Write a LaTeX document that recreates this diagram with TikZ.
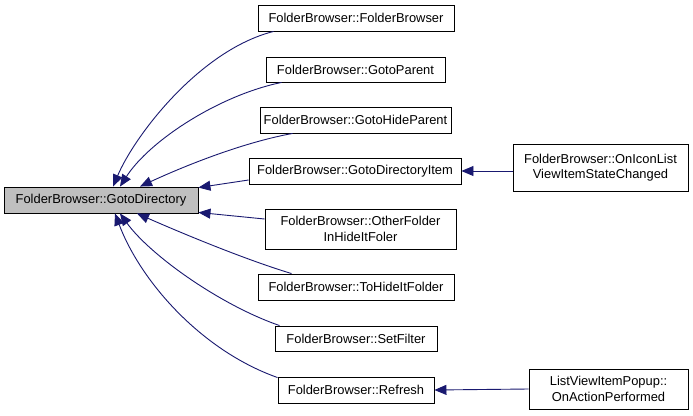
\documentclass[tikz,border=0pt]{standalone}
\usepackage{fontspec}
\setmainfont{Liberation Sans}
\usetikzlibrary{arrows.meta}
\definecolor{edgecol}{HTML}{191970}
\definecolor{mainfill}{HTML}{BFBFBF}
\begin{document}
\begin{tikzpicture}[x=1pt,y=-1pt,
  box/.style={draw=black, line width=0.9pt, fill=white, inner sep=0pt, align=center,
    font=\fontsize{12.9}{15.5}\selectfont},
  mainbox/.style={box, fill=mainfill},
  edge/.style={draw=edgecol, line width=0.9pt, {Triangle[length=12pt,width=10pt]}-}]
\useasboundingbox (0,0) rectangle (693,415);
\fill[white] (0,0) rectangle (693,415);
% nodes
\node[mainbox, minimum width=194pt, minimum height=26pt] (main) at (101,200) {FolderBrowser::GotoDirectory};
\node[box, minimum width=196pt, minimum height=26pt] (n1) at (356,18) {FolderBrowser::FolderBrowser};
\node[box, minimum width=179pt, minimum height=25pt] (n2) at (355.5,69.5) {FolderBrowser::GotoParent};
\node[box, minimum width=191pt, minimum height=26pt] (n3) at (355.5,120) {FolderBrowser::GotoHideParent};
\node[box, minimum width=212pt, minimum height=26pt] (n4) at (355,171) {FolderBrowser::GotoDirectoryItem};
\node[box, minimum width=191pt, minimum height=40pt] (n5) at (360.5,229) {FolderBrowser::OtherFolder\\InHideItFoler};
\node[box, minimum width=196pt, minimum height=26pt] (n6) at (356,287) {FolderBrowser::ToHideItFolder};
\node[box, minimum width=162pt, minimum height=25pt] (n7) at (356,338.5) {FolderBrowser::SetFilter};
\node[box, minimum width=156pt, minimum height=26pt] (n8) at (356,390) {FolderBrowser::Refresh};
\node[box, minimum width=175pt, minimum height=47pt] (r1) at (600.5,167.5) {FolderBrowser::OnIconList\\ViewItemStateChanged};
\node[box, minimum width=159pt, minimum height=40pt] (r2) at (608.5,389) {ListViewItemPopup::\\OnActionPerformed};
% edges
\draw[edge] ([xshift=12pt]main.north) .. controls (135,135) and (200,50) .. ([xshift=16pt]n1.south west);
\draw[edge] ([xshift=19pt]main.north) .. controls (150,140) and (220,95) .. ([xshift=16pt]n2.south west);
\draw[edge] ([xshift=39pt]main.north) .. controls (180,168) and (240,143) .. ([xshift=33pt]n3.south west);
\draw[edge] ([yshift=-1pt]main.north east) -- ([yshift=-9pt]n4.west);
\draw[edge] ([yshift=1pt]main.south east) -- ([yshift=10pt]n5.west);
\draw[edge] ([xshift=36pt]main.south) .. controls (170,228) and (240,258) .. ([xshift=34pt]n6.north west);
\draw[edge] ([xshift=19pt]main.south) .. controls (150,255) and (220,305) .. ([xshift=5pt]n7.north west);
\draw[edge] ([xshift=14pt]main.south) .. controls (140,280) and (200,350) .. ([xshift=0pt,yshift=-1pt]n8.north west);
\draw[edge] (n4.east) -- ([yshift=-3.5pt]r1.west);
\draw[edge] (n8.east) -- (r2.west);
\end{tikzpicture}
\end{document}
